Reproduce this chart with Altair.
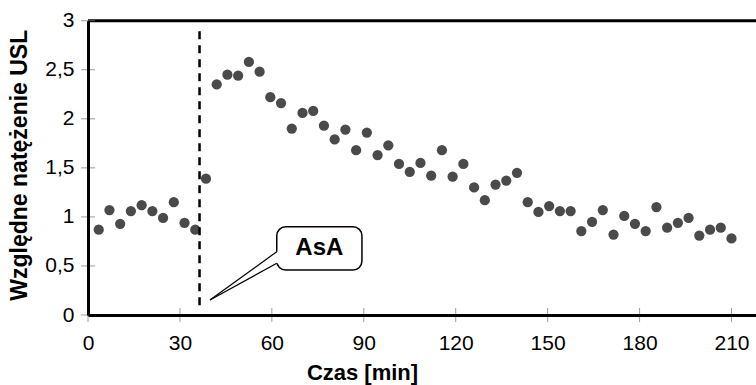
import altair as alt
import pandas as pd

# --- data ---
times = [3.5, 7, 10.5, 14, 17.5, 21, 24.5, 28, 31.5, 35,
         38.5, 42, 45.5, 49, 52.5, 56, 59.5, 63, 66.5, 70,
         73.5, 77, 80.5, 84, 87.5, 91, 94.5, 98, 101.5, 105,
         108.5, 112, 115.5, 119, 122.5, 126, 129.5, 133, 136.5, 140,
         143.5, 147, 150.5, 154, 157.5, 161, 164.5, 168, 171.5, 175,
         178.5, 182, 185.5, 189, 192.5, 196, 199.5, 203, 206.5, 210]
values = [0.87, 1.07, 0.93, 1.06, 1.12, 1.06, 0.99, 1.15, 0.94, 0.87,
          1.39, 2.35, 2.45, 2.44, 2.58, 2.48, 2.22, 2.16, 1.90, 2.06,
          2.08, 1.93, 1.79, 1.89, 1.68, 1.86, 1.63, 1.73, 1.54, 1.46,
          1.55, 1.42, 1.68, 1.41, 1.54, 1.30, 1.17, 1.33, 1.37, 1.45,
          1.15, 1.05, 1.11, 1.06, 1.06, 0.855, 0.95, 1.07, 0.82, 1.01,
          0.93, 0.855, 1.10, 0.89, 0.94, 0.99, 0.81, 0.87, 0.89, 0.78]

x_ticks = [0, 30, 60, 90, 120, 150, 180, 210]
y_ticks = [0, 0.5, 1, 1.5, 2, 2.5, 3]
x_domain = [0, 218]
y_domain = [0, 3]

# annotation (AsA addition)
asa_time = [36.4]
asa_span = [0.1, 2.91]
box_x = [61.6, 89.4]
box_y = [0.458, 0.90]
label_xy = [75.5, 0.68]
label_text = ["AsA"]
tip_xy = [39.8, 0.153]
base_x = [61.6, 62.6]
base_y = [0.527, 0.645]

FONT = "Liberation Sans"


def X(field):
    return alt.X(field, type="quantitative",
                 scale=alt.Scale(domain=x_domain, nice=False, zero=False),
                 axis=alt.Axis(values=x_ticks, ticks=False, grid=False,
                               domainColor="black", domainWidth=3,
                               labelFont=FONT, labelFontSize=21, labelColor="black",
                               labelPadding=17, labelFlush=False, labelOverlap=False,
                               title="Czas [min]", titleFont=FONT, titleFontSize=22,
                               titleFontWeight="bold", titleColor="black",
                               titleX=274, titleY=64, titleBaseline="alphabetic",
                               titleAlign="center", zindex=1))


def Y(field):
    return alt.Y(field, type="quantitative",
                 scale=alt.Scale(domain=y_domain, nice=False, zero=False),
                 axis=alt.Axis(values=y_ticks, ticks=False, grid=False,
                               domainColor="black", domainWidth=3,
                               labelFont=FONT, labelFontSize=21, labelColor="black",
                               labelPadding=14, labelFlush=False, labelOverlap=False,
                               labelExpr="replace(toString(datum.value), '.', ',')",
                               title="Względne natężenie USL", titleFont=FONT,
                               titleFontSize=23, titleFontWeight="bold", titleColor="black",
                               titleAngle=270, titleX=-69, titleY=144,
                               titleBaseline="middle", titleAlign="center", zindex=1))


pts = pd.DataFrame({"t": times, "v": values})
points = alt.Chart(pts).mark_circle(size=105, color="#4a4a4a", opacity=1).encode(
    x=X("t"), y=Y("v"))

dash_df = pd.DataFrame({"t": asa_time, "y1": [asa_span[0]], "y2": [asa_span[1]]})
dash = alt.Chart(dash_df).mark_rule(color="black", strokeWidth=2.5, strokeDash=[8, 6]).encode(
    x=X("t"), y=Y("y1"), y2="y2")

top_df = pd.DataFrame({"y": [y_domain[1]]})
top = alt.Chart(top_df).mark_rule(color="black", strokeWidth=3).encode(y=Y("y"))

xt_df = pd.DataFrame({"t": x_ticks, "zero": [0] * len(x_ticks)})
xticks = alt.Chart(xt_df).mark_tick(orient="vertical", size=14, thickness=1, color="#707070").encode(
    x=X("t"), y=Y("zero"))

yt_df = pd.DataFrame({"v": y_ticks, "zero": [0] * len(y_ticks)})
yticks = alt.Chart(yt_df).mark_tick(orient="horizontal", size=14, thickness=1, color="#707070").encode(
    x=X("zero"), y=Y("v"))

box_df = pd.DataFrame({"x1": [box_x[0]], "x2": [box_x[1]], "y1": [box_y[0]], "y2": [box_y[1]]})
box = alt.Chart(box_df).mark_rect(cornerRadius=9, fill="white", stroke="black", strokeWidth=1.5).encode(
    x=X("x1"), x2="x2", y=Y("y1"), y2="y2")

wedge_df = pd.DataFrame({"x": [tip_xy[0], base_x[0], base_x[1]],
                         "y1": [tip_xy[1], base_y[0], base_y[0]],
                         "y2": [tip_xy[1], base_y[1], base_y[1]]})
wedge = alt.Chart(wedge_df).mark_area(color="white", opacity=1, orient="vertical").encode(
    x=X("x"), y=Y("y1"), y2="y2")

edges_df = pd.DataFrame({"x1": [tip_xy[0], tip_xy[0]], "x2": [base_x[0], base_x[0]],
                         "y1": [tip_xy[1], tip_xy[1]], "y2": [base_y[0], base_y[1]]})
edges = alt.Chart(edges_df).mark_rule(color="black", strokeWidth=1.2).encode(
    x=X("x1"), x2="x2", y=Y("y1"), y2="y2")

lab_df = pd.DataFrame({"x": [label_xy[0]], "y": [label_xy[1]], "txt": label_text})
label = alt.Chart(lab_df).mark_text(font=FONT, fontSize=24, fontWeight="bold", color="black",
                                    align="center", baseline="middle").encode(
    x=X("x"), y=Y("y"), text="txt:N")

chart = alt.layer(points, dash, top, xticks, yticks, box, wedge, edges, label).properties(
    width=668, height=294.3, autosize="none",
    padding={"left": 88, "top": 20.7, "right": 0, "bottom": 70},
    background="white",
).configure_view(stroke=None)

chart.save("out.html", embed_options={"renderer": "svg", "actions": False})
